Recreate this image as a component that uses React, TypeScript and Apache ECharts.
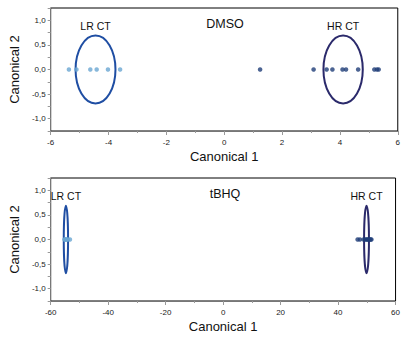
import React, { useEffect, useRef } from "react";
import * as echarts from "echarts";

// DMSO panel (Canonical 1 scores, Canonical 2 = 0)
const dmsoLR = [-5.37, -5.11, -4.63, -4.41, -4.02, -3.6];
const dmsoHR = [1.24, 3.09, 3.54, 3.74, 4.09, 4.21, 4.63, 5.19, 5.28, 5.34];
// tBHQ panel
const tbhqLR = [-55.2, -55.0, -54.7, -54.5, -54.0, -53.3];
const tbhqHR = [46.8, 47.6, 48.9, 49.4, 49.9, 50.2, 50.6, 51.0, 51.3, 51.6];

// ellipses: [centerX, centerY, radiusX, radiusY]
const dmsoEllipses = [
  [-4.45, 0, 0.69, 0.69],
  [4.11, 0, 0.68, 0.69],
];
const tbhqEllipses = [
  [-54.7, 0, 0.75, 0.685],
  [49.9, 0, 0.85, 0.685],
];
const groupLabels = ["LR CT", "HR CT"];
const panelTitles = ["DMSO", "tBHQ"];

const LR_POINT = "#6aa6d2";
const HR_POINT = "#1f3d78";
const ELLIPSE_COLORS = ["#1f4ea3", "#2b2a6b"];
const FONT = "'Liberation Sans', Arial, sans-serif";

function ellipseSeries(data: number[][], axisIndex: number) {
  return {
    type: "custom",
    xAxisIndex: axisIndex,
    yAxisIndex: axisIndex,
    data,
    encode: { x: 0, y: 1 },
    z: 3,
    renderItem: (params: any, api: any) => {
      const c = api.coord([api.value(0), api.value(1)]);
      const s = api.size([api.value(2), api.value(3)]);
      const rx = s[0];
      const ry = s[1];
      const i = params.dataIndex;
      return {
        type: "group",
        children: [
          {
            type: "ellipse",
            shape: { cx: c[0], cy: c[1], rx, ry },
            style: { fill: "none", stroke: ELLIPSE_COLORS[i], lineWidth: 2 },
          },
          {
            type: "text",
            x: c[0],
            y: c[1] - ry - 4,
            style: {
              text: groupLabels[i],
              fill: "#111",
              font: `10.5px ${FONT}`,
              align: "center",
              verticalAlign: "bottom",
              textAlign: "center",
              textVerticalAlign: "bottom",
            },
          },
        ],
      };
    },
  };
}

function scatter(xs: number[], color: string, axisIndex: number) {
  return {
    type: "scatter",
    xAxisIndex: axisIndex,
    yAxisIndex: axisIndex,
    data: xs.map((x) => [x, 0]),
    symbolSize: 4.5,
    itemStyle: { color },
    z: 4,
  };
}

function xAxis(gridIndex: number, min: number, max: number, interval: number) {
  return {
    type: "value",
    gridIndex,
    min,
    max,
    interval,
    name: "Canonical 1",
    nameLocation: "middle",
    nameGap: 19,
    nameTextStyle: { fontSize: 13, color: "#111", fontFamily: FONT },
    axisLine: { show: true, onZero: false, lineStyle: { color: "#777", width: 1 } },
    axisTick: { show: true, length: 4, lineStyle: { color: "#999" } },
    minorTick: { show: true, splitNumber: 2, length: 2, lineStyle: { color: "#999" } },
    splitLine: { show: false },
    axisLabel: { fontSize: 8, color: "#222", margin: 7, fontFamily: FONT },
  };
}

function yAxis(gridIndex: number) {
  return {
    type: "value",
    gridIndex,
    min: -1.25,
    max: 1.25,
    interval: 0.25,
    name: "Canonical 2",
    nameLocation: "middle",
    nameGap: 25,
    nameTextStyle: { fontSize: 13, color: "#111", fontFamily: FONT },
    axisLine: { show: true, onZero: false, lineStyle: { color: "#777", width: 1 } },
    axisTick: { show: true, length: 3, lineStyle: { color: "#999" } },
    splitLine: { show: false },
    axisLabel: {
      fontSize: 8,
      color: "#222",
      margin: 5,
      fontFamily: FONT,
      formatter: (v: number) =>
        Math.abs(v * 2 - Math.round(v * 2)) < 1e-6 && Math.abs(v) <= 1.0001
          ? v.toFixed(1).replace(".", ",")
          : "",
    },
  };
}

export default function App() {
  const ref = useRef<HTMLDivElement>(null);
  useEffect(() => {
    if (!ref.current) return;
    const chart = echarts.init(ref.current, null, { renderer: "svg" });
    chart.setOption({
      animation: false,
      backgroundColor: "#fff",
      grid: [
        { left: 48, top: 8, width: 352, height: 123, show: true, borderColor: "#000", borderWidth: 1, backgroundColor: "transparent" },
        { left: 48, top: 178, width: 352, height: 123, show: true, borderColor: "#000", borderWidth: 1, backgroundColor: "transparent" },
      ],
      xAxis: [xAxis(0, -6, 6, 2), xAxis(1, -60, 60, 20)],
      yAxis: [yAxis(0), yAxis(1)],
      graphic: [
        {
          type: "text",
          x: 225,
          y: 24,
          style: { text: panelTitles[0], font: `12.5px ${FONT}`, fill: "#111", align: "center", verticalAlign: "middle" },
        },
        {
          type: "text",
          x: 225,
          y: 194,
          style: { text: panelTitles[1], font: `12.5px ${FONT}`, fill: "#111", align: "center", verticalAlign: "middle" },
        },
      ],
      series: [
        ellipseSeries(dmsoEllipses, 0),
        scatter(dmsoLR, LR_POINT, 0),
        scatter(dmsoHR, HR_POINT, 0),
        ellipseSeries(tbhqEllipses, 1),
        scatter(tbhqLR, LR_POINT, 1),
        scatter(tbhqHR, HR_POINT, 1),
      ],
    });
    return () => chart.dispose();
  }, []);
  return <div ref={ref} style={{ width: 403, height: 338, position: "absolute", left: 0, top: 0 }} />;
}
